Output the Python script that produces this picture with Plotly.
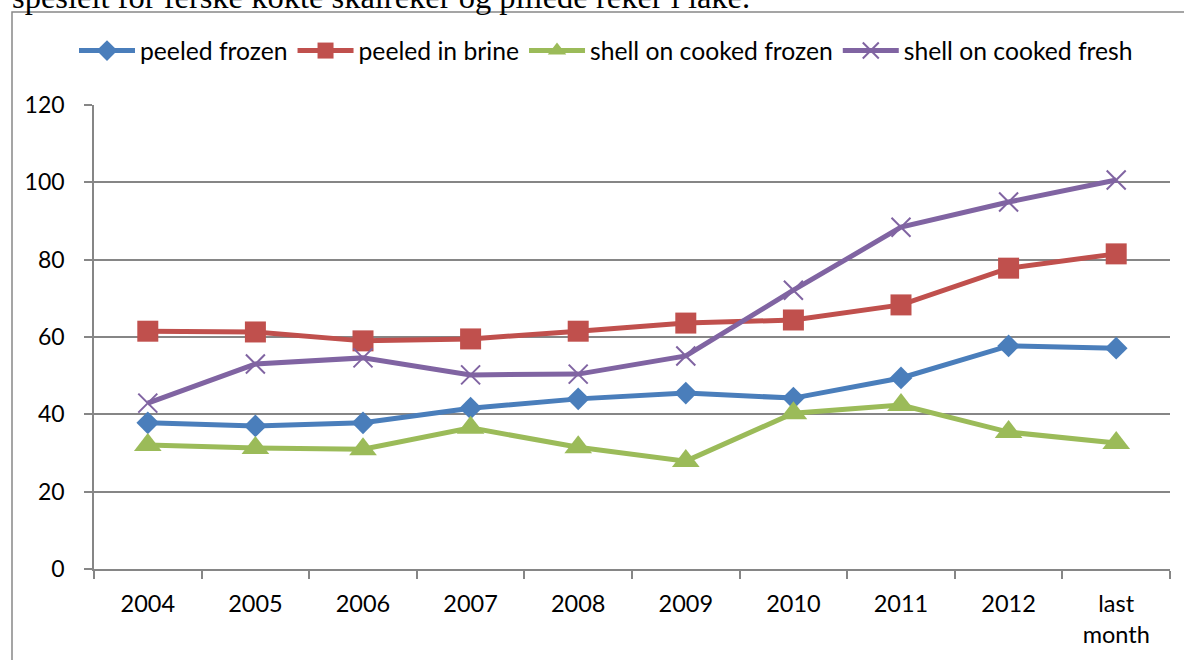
import plotly.graph_objects as go

categories = ["2004", "2005", "2006", "2007", "2008", "2009", "2010", "2011", "2012", "last<br>month"]
peeled_frozen = [37.8, 37.0, 37.8, 41.6, 44.0, 45.5, 44.2, 49.4, 57.7, 57.1]
peeled_in_brine = [61.5, 61.3, 59.0, 59.5, 61.5, 63.6, 64.4, 68.3, 77.8, 81.5]
shell_cooked_frozen = [32.1, 31.3, 31.0, 36.5, 31.5, 27.9, 40.3, 42.4, 35.4, 32.6]
shell_cooked_fresh = [42.9, 53.0, 54.6, 50.2, 50.4, 55.1, 72.1, 88.4, 94.9, 100.6]
y_ticks = [0, 20, 40, 60, 80, 100, 120]
caption = "spesielt for ferske kokte skalreker og pillede reker i lake."

series = [
    ("peeled frozen", peeled_frozen, "#4A7EBB", "diamond", 17.5),
    ("peeled in brine", peeled_in_brine, "#C0504D", "square", 21),
    ("shell on cooked frozen", shell_cooked_frozen, "#9BBB59", "triangle-up", 24),
    ("shell on cooked fresh", shell_cooked_fresh, "#8064A2", "x-thin-open", 19),
]

fig = go.Figure()
for name, vals, color, sym, size in series:
    marker = dict(symbol=sym, size=size, color=color)
    if sym == "x-thin-open":
        marker["line"] = dict(color=color, width=2)
    fig.add_trace(go.Scatter(
        x=categories, y=vals, name=name, mode="lines+markers",
        line=dict(color=color, width=5), marker=marker,
    ))

W, H = 1184, 660
L, R, T, B = 94, 14, 105, 91
pw, ph = W - L - R, H - T - B

def px_x(p):
    return (p - L) / pw

def px_y(p):
    return (H - B - p) / ph

grid = "#868686"
fig.update_layout(
    width=W, height=H,
    margin=dict(l=L, r=R, t=T, b=B),
    paper_bgcolor="white", plot_bgcolor="white",
    font=dict(family="Lato", size=23, color="black"),
    showlegend=True,
    legend=dict(orientation="h", x=px_x(74), y=px_y(51), xanchor="left", yanchor="middle",
                font=dict(family="Lato", size=24.7, color="black"), itemwidth=56,
                bgcolor="rgba(0,0,0,0)"),
    xaxis=dict(
        type="category", range=[-0.5, 9.5], tickson="boundaries",
        showline=True, linecolor=grid, linewidth=1.5,
        ticks="outside", ticklen=8, tickcolor=grid, tickwidth=1.5,
        showgrid=False, tickfont=dict(family="Lato", size=23.5, color="black"),
        ticklabelstandoff=13, fixedrange=True,
    ),
    yaxis=dict(
        range=[0, 120], tickvals=y_ticks,
        showline=True, linecolor=grid, linewidth=1.5,
        ticks="outside", ticklen=8, tickcolor=grid, tickwidth=1.5,
        showgrid=True, gridcolor=grid, gridwidth=1.5, zeroline=False,
        tickfont=dict(family="Lato", size=23, color="black"),
        ticklabelstandoff=15, fixedrange=True,
    ),
    shapes=[dict(type="rect", xref="paper", yref="paper",
                 x0=px_x(12), x1=px_x(1200), y0=px_y(700), y1=px_y(12),
                 line=dict(color="#888888", width=1.5), fillcolor="rgba(0,0,0,0)", layer="below")],
    annotations=[dict(text=caption, xref="paper", yref="paper", x=px_x(10), y=px_y(17),
                      xanchor="left", yanchor="bottom", showarrow=False,
                      font=dict(family="Liberation Serif", size=32.5, color="black"))],
)

fig.write_html("out.html", config={"displayModeBar": False},
               post_script="document.body.style.margin='0';document.body.style.overflow='hidden';")
